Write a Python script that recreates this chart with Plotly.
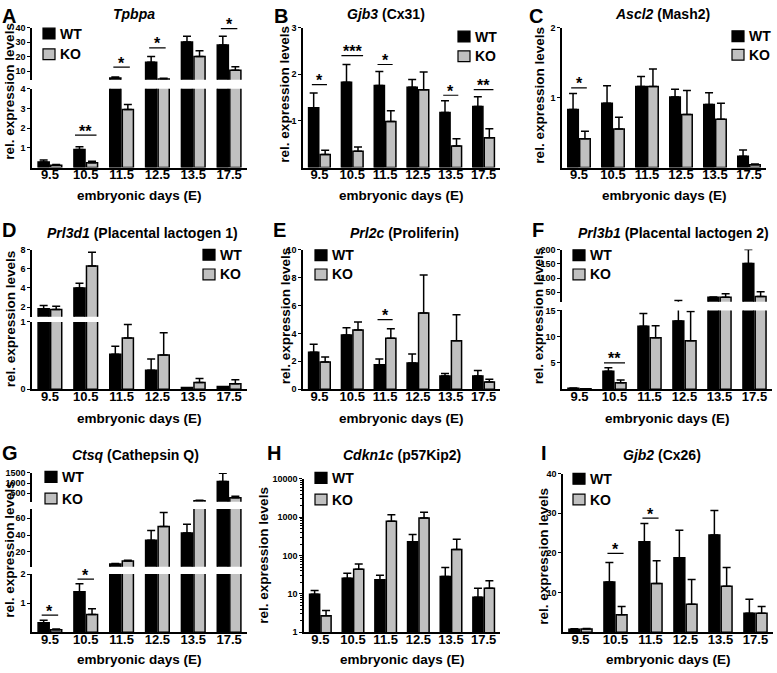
import math
import plotly.graph_objects as go

W, H = 777, 673
days = ["9.5", "10.5", "11.5", "12.5", "13.5", "17.5"]

# ---- data (mean and upper SEM) ----
A_wt = [0.28, 0.92, 5.2, 16, 30, 28]
A_wt_sem = [0.10, 0.13, 0.7, 4, 4, 6]
A_ko = [0.12, 0.25, 2.95, 4.5, 20, 10.5]
A_ko_sem = [0.03, 0.07, 0.25, 0.5, 4, 2.5]
A_sig = [(1, 1.65, "**", 0), (2, 12.7, "*", 1), (3, 26, "*", 1), (5, 39.3, "*", 1)]

B_wt = [1.28, 1.83, 1.76, 1.72, 1.18, 1.31]
B_wt_sem = [0.32, 0.38, 0.30, 0.17, 0.25, 0.21]
B_ko = [0.28, 0.35, 0.99, 1.67, 0.46, 0.64]
B_ko_sem = [0.09, 0.09, 0.23, 0.38, 0.16, 0.19]
B_sig = [(0, 1.78, "*", 0), (1, 2.4, "***", 0), (2, 2.21, "*", 0), (4, 1.55, "*", 0), (5, 1.67, "**", 0)]

C_wt = [0.83, 0.92, 1.16, 1.01, 0.90, 0.16]
C_wt_sem = [0.23, 0.25, 0.14, 0.11, 0.17, 0.09]
C_ko = [0.41, 0.55, 1.16, 0.76, 0.69, 0.04]
C_ko_sem = [0.11, 0.17, 0.25, 0.34, 0.23, 0.01]
C_sig = [(0, 1.14, "*", 0)]

D_wt = [1.83, 4.0, 0.52, 0.28, 0.025, 0.04]
D_wt_sem = [0.34, 0.5, 0.12, 0.17, 0.0, 0.0]
D_ko = [1.76, 6.29, 0.76, 0.51, 0.10, 0.08]
D_ko_sem = [0.34, 1.44, 0.20, 0.33, 0.06, 0.06]
D_sig = []

E_wt = [2.64, 3.88, 1.76, 1.88, 0.94, 0.94]
E_wt_sem = [0.58, 0.52, 0.40, 0.64, 0.19, 0.40]
E_ko = [1.95, 4.24, 3.65, 5.46, 3.48, 0.52]
E_ko_sem = [0.36, 0.58, 0.68, 2.73, 1.86, 0.19]
E_sig = [(2, 4.99, "*", 0)]

F_wt = [0.2, 3.44, 12.0, 13.0, 33, 151]
F_wt_sem = [0.05, 0.62, 2.4, 8.5, 1, 49]
F_ko = [0.1, 1.25, 9.8, 9.2, 33, 35]
F_ko_sem = [0.02, 0.5, 2.3, 5.6, 12, 17]
F_sig = [(1, 5.0, "**", 0)]

G_wt = [0.33, 1.39, 5.5, 33.8, 42.4, 1080]
G_wt_sem = [0.08, 0.28, 0.5, 11.7, 10.6, 400]
G_ko = [0.09, 0.61, 9, 50.2, 120, 273]
G_ko_sem = [0.02, 0.2, 1, 16.8, 25, 67]
G_sig = [(0, 0.59, "*", 0), (1, 1.83, "*", 0)]

H_wt = [9.8, 25.5, 23.2, 228, 28.3, 8.2]
H_wt_sem = [2.4, 8.9, 7.3, 124, 20.7, 5.8]
H_ko = [2.7, 43.6, 783, 955, 144, 14]
H_ko_sem = [1.0, 16.4, 377, 395, 123, 7.9]
H_sig = []

I_wt = [0.75, 12.7, 22.8, 18.8, 24.5, 4.8]
I_wt_sem = [0.15, 4.9, 4.6, 6.9, 6.2, 3.5]
I_ko = [0.83, 4.4, 12.3, 7.05, 11.6, 4.8]
I_ko_sem = [0.12, 2.1, 5.7, 6.25, 4.7, 1.7]
I_sig = [(1, 19.9, "*", 0), (2, 28.8, "*", 0)]

titles = ["<i>Tpbpa</i>", "<i>Gjb3</i> (Cx31)", "<i>Ascl2</i> (Mash2)",
          "<i>Prl3d1</i> (Placental lactogen 1)", "<i>Prl2c</i> (Proliferin)",
          "<i>Prl3b1</i> (Placental lactogen 2)", "<i>Ctsq</i> (Cathepsin Q)",
          "<i>Cdkn1c</i> (p57Kip2)", "<i>Gjb2</i> (Cx26)"]
letters = ["A", "B", "C", "D", "E", "F", "G", "H", "I"]

FONT = "Liberation Sans, Arial, Helvetica, sans-serif"
GREY = "#c0c0c0"

# ---- layout geometry (pixels) ----
panels = [
    dict(wt=A_wt, wts=A_wt_sem, ko=A_ko, kos=A_ko_sem, sig=A_sig, x=(32, 247), row=0,
         tx=134, lx=0, ytx=10, yty=88, leg=(43, 29, 50),
         segs=[dict(r=[0, 4], px=(165, 85), t=[1, 2, 3, 4]),
               dict(r=[4, 40], px=(75.8, 23), t=[10, 20, 30, 40])]),
    dict(wt=B_wt, wts=B_wt_sem, ko=B_ko, kos=B_ko_sem, sig=B_sig, x=(303, 500), row=0,
         tx=386, lx=272, ytx=285, yty=91, leg=(458, 32, 52),
         segs=[dict(r=[0, 3], px=(165, 23), t=[1, 2, 3])]),
    dict(wt=C_wt, wts=C_wt_sem, ko=C_ko, kos=C_ko_sem, sig=C_sig, x=(562, 766), row=0,
         tx=662, lx=527, ytx=540, yty=92, leg=(732, 31.7, 50.5),
         segs=[dict(r=[0, 2], px=(165, 23), t=[1, 2])]),
    dict(wt=D_wt, wts=D_wt_sem, ko=D_ko, kos=D_ko_sem, sig=D_sig, x=(32, 247), row=1,
         tx=142, lx=0, ytx=10, yty=319, leg=(203, 253.5, 273.5),
         segs=[dict(r=[0, 1], px=(390, 321.7), t=[0, 1]),
               dict(r=[1, 8], px=(316.4, 248.3), t=[2, 4, 6, 8])]),
    dict(wt=E_wt, wts=E_wt_sem, ko=E_ko, kos=E_ko_sem, sig=E_sig, x=(303, 500), row=1,
         tx=404, lx=271, ytx=285, yty=316, leg=(315, 254, 273.5),
         segs=[dict(r=[0, 10], px=(390, 248.3), t=[0, 2, 4, 6, 8, 10])]),
    dict(wt=F_wt, wts=F_wt_sem, ko=F_ko, kos=F_ko_sem, sig=F_sig, x=(562, 772), row=1,
         tx=673, lx=530, ytx=538, yty=316, leg=(573, 254, 273.5),
         segs=[dict(r=[0, 15], px=(390, 310), t=[5, 10, 15]),
               dict(r=[17, 200], px=(301.2, 248.3), t=[50, 100, 150, 200])]),
    dict(wt=G_wt, wts=G_wt_sem, ko=G_ko, kos=G_ko_sem, sig=G_sig, x=(32, 247), row=2,
         tx=135, lx=0, ytx=10, yty=553, leg=(45, 479, 501),
         segs=[dict(r=[0, 2], px=(636.7, 577.7), t=[1, 2]),
               dict(r=[2, 71], px=(570.3, 511.7), t=[20, 40, 60]),
               dict(r=[71, 1500], px=(504.3, 475), t=[500, 1000, 1500])]),
    dict(wt=H_wt, wts=H_wt_sem, ko=H_ko, kos=H_ko_sem, sig=H_sig, x=(304, 500), row=2,
         tx=402, lx=265, ytx=264, yty=559, leg=(315, 480, 502),
         segs=[dict(r=[0, 4], px=(636.7, 481), t=[1, 10, 100, 1000, 10000], log=True)]),
    dict(wt=I_wt, wts=I_wt_sem, ko=I_ko, kos=I_ko_sem, sig=I_sig, x=(563, 773), row=2,
         tx=662, lx=539, ytx=544, yty=560, leg=(573, 481, 502),
         segs=[dict(r=[0, 40], px=(636.7, 475.7), t=[10, 20, 30, 40])]),
]
row_title_y = [9, 231.7, 456.7]
row_letter_y = [11, 228, 455]
row_xtitle_y = [193.5, 420, 664]

BAR_W = 0.31
OFFS = (-0.33, 0.02)
LOG_MINOR = [m * 10 ** d for d in range(4) for m in range(2, 10)]


def xd(px):
    return px / W


def yd(py):
    return 1 - py / H


fig = go.Figure()
layout = dict(width=W, height=H, margin=dict(l=0, r=0, t=0, b=0),
              paper_bgcolor="white", plot_bgcolor="white",
              showlegend=False, barmode="overlay")
shapes, annots = [], []
nx, ny = 0, 0
xs = list(range(len(days)))

for pi, p in enumerate(panels):
    nx += 1
    xname = "x" if nx == 1 else f"x{nx}"
    xkey = "xaxis" if nx == 1 else f"xaxis{nx}"
    ynames = []
    for seg in p["segs"]:
        ny += 1
        yname = "y" if ny == 1 else f"y{ny}"
        ykey = "yaxis" if ny == 1 else f"yaxis{ny}"
        ynames.append(yname)
        yax = dict(domain=[yd(seg["px"][0]), yd(seg["px"][1])], range=seg["r"],
                   anchor=xname, showline=True, linecolor="black", linewidth=1.5,
                   ticks="outside", ticklen=3, tickwidth=1, tickcolor="black",
                   tickmode="array", tickvals=seg["t"], ticktext=[str(v) for v in seg["t"]],
                   tickfont=dict(family=FONT, size=9, color="black", weight="bold"),
                   showgrid=False, zeroline=False, fixedrange=True)
        is_log = bool(seg.get("log"))
        tr = (lambda v: math.log10(v)) if is_log else (lambda v: v)
        if is_log:
            yax["type"] = "log"
            yax["minor"] = dict(tickmode="array", tickvals=LOG_MINOR, ticks="outside",
                                ticklen=2, tickwidth=0.8, tickcolor="black", showgrid=False)
        lo, hi = seg["r"]
        unit_per_px = (hi - lo) / (seg["px"][0] - seg["px"][1])
        margin = 1.0 * unit_per_px
        layout[ykey] = yax
        for (vals, sem, color), off in zip(((p["wt"], p["wts"], "black"),
                                            (p["ko"], p["kos"], GREY)), OFFS):
            # bars visible in this segment
            bi = [i for i in xs if tr(vals[i]) > lo]
            if bi:
                fig.add_trace(go.Bar(
                    x=bi, y=[vals[i] for i in bi], offset=off, width=BAR_W,
                    marker=dict(color=color, line=dict(color="black", width=1.5)),
                    xaxis=xname, yaxis=yname, hoverinfo="skip"))
            # error bars visible in this segment
            ei = [i for i in xs if sem[i] > 0 and tr(vals[i]) < hi - margin
                  and tr(vals[i] + sem[i]) > lo + margin]
            if ei:
                fig.add_trace(go.Scatter(
                    x=[i + off + BAR_W / 2 for i in ei], y=[vals[i] for i in ei],
                    mode="markers", marker=dict(size=1, opacity=0),
                    error_y=dict(type="data", symmetric=False,
                                 array=[sem[i] for i in ei], arrayminus=[0] * len(ei),
                                 color="black", thickness=1.5, width=4),
                    xaxis=xname, yaxis=yname, hoverinfo="skip"))
    layout[xkey] = dict(domain=[xd(p["x"][0]), xd(p["x"][1])], range=[-0.5, 5.5],
                        anchor=ynames[0], tickmode="array", tickvals=xs, ticktext=days,
                        ticks="", showline=True, linecolor="black", linewidth=1.5,
                        ticklabelstandoff=-6,
                        tickfont=dict(family=FONT, size=13, color="black", weight="bold"),
                        showgrid=False, zeroline=False, fixedrange=True)

    # significance bars
    for (i, yv, stars, si) in p["sig"]:
        hw = {1: 0.23, 2: 0.3, 3: 0.33}[len(stars)]
        shapes.append(dict(type="line", xref=xname, yref=ynames[si],
                           x0=i - hw, x1=i + hw, y0=yv, y1=yv,
                           line=dict(color="black", width=1.2)))
        annots.append(dict(x=i, y=yv, xref=xname, yref=ynames[si], text=stars,
                           showarrow=False, yanchor="middle", yshift=4,
                           font=dict(family=FONT, size=16, color="black", weight="bold")))

    row = p["row"]
    annots.append(dict(x=xd(p["tx"]), y=yd(row_title_y[row]), xref="paper", yref="paper",
                       text=titles[pi], showarrow=False, xanchor="center", yanchor="middle",
                       font=dict(family=FONT, size=14, color="black", weight="bold")))
    annots.append(dict(x=xd(p["lx"]), y=yd(row_letter_y[row]), xref="paper", yref="paper",
                       text=letters[pi], showarrow=False, xanchor="left", yanchor="middle",
                       font=dict(family=FONT, size=20, color="black", weight="bold")))
    annots.append(dict(x=xd((p["x"][0] + p["x"][1]) / 2), y=yd(row_xtitle_y[row]),
                       xref="paper", yref="paper", text="embryonic days (E)",
                       showarrow=False, xanchor="center", yanchor="middle",
                       font=dict(family=FONT, size=13.5, color="black", weight="bold")))
    annots.append(dict(x=xd(p["ytx"]), y=yd(p["yty"]), xref="paper", yref="paper",
                       text="rel. expression levels", textangle=-90, showarrow=False,
                       xanchor="center", yanchor="middle",
                       font=dict(family=FONT, size=13.5, color="black", weight="bold")))
    bx, wy, ky = p["leg"]
    for cy, col, lab in ((wy, "black", "WT"), (ky, GREY, "KO")):
        shapes.append(dict(type="rect", xref="paper", yref="paper",
                           x0=xd(bx), x1=xd(bx + 12), y0=yd(cy + 5.5), y1=yd(cy - 5.5),
                           fillcolor=col, line=dict(color="black", width=1.2)))
        annots.append(dict(x=xd(bx + 15), y=yd(cy), xref="paper", yref="paper",
                           text=lab, showarrow=False, xanchor="left", yanchor="middle",
                           font=dict(family=FONT, size=14, color="black", weight="bold")))

layout["shapes"] = shapes
layout["annotations"] = annots
fig.update_layout(**layout)
fig.write_html("out.html", config={"displayModeBar": False},
               post_script="document.body.style.margin='0px';")
